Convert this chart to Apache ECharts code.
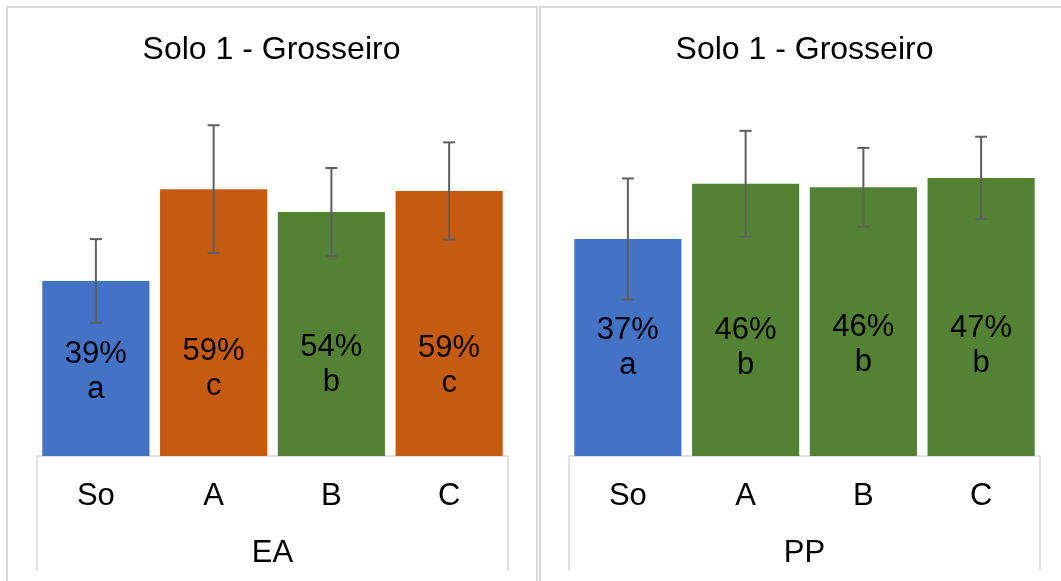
<!DOCTYPE html>
<html>
<head>
<meta charset="utf-8">
<script src="https://cdn.jsdelivr.net/npm/echarts@6/dist/echarts.min.js"></script>
<style>
html,body{margin:0;padding:0;background:#fff;}
#c{width:1061px;height:581px;}
</style>
</head>
<body>
<div id="c"></div>
<script>
// ---- data ----
const categories = ['So', 'A', 'B', 'C'];
const chartTitle = 'Solo 1 - Grosseiro';
const eaName = 'EA';
const eaValues = [38.9, 59.3, 54.2, 58.9];
const eaErrors = [9.3, 14.2, 9.8, 10.8];
const eaLetters = ['a', 'c', 'b', 'c'];
const ppName = 'PP';
const ppValues = [36.9, 46.3, 45.7, 47.3];
const ppErrors = [10.3, 9.0, 6.7, 7.0];
const ppLetters = ['a', 'b', 'b', 'b'];

// ---- styles / layout ----
const letterColors = { a: '#4472C4', b: '#548235', c: '#C55A11' };
const FONT = "'Liberation Sans', Arial, sans-serif";
const FS = 31;
const baseY = 456;
const boxBottom = 571;
const grids = [
  { left: 37, width: 471, max: 80, pxPer: 4.5, labelDist: [49, 52, 56, 55], panelX: 7, panelW: 530, titleX: 271.5 },
  { left: 569, width: 471, max: 60, pxPer: 5.88, labelDist: [73, 73, 76, 75], panelX: 540, panelW: 540, titleX: 804.5 }
];
grids.forEach(g => { g.height = g.max * g.pxPer; g.top = baseY - g.height; });

function errRender(params, api) {
  const x = api.value(0);
  const pLo = api.coord([x, api.value(1)]);
  const pHi = api.coord([x, api.value(2)]);
  const cap = 6;
  const style = { stroke: '#5f5f5f', lineWidth: 2 };
  return {
    type: 'group',
    children: [
      { type: 'line', shape: { x1: pHi[0], y1: pHi[1], x2: pLo[0], y2: pLo[1] }, style },
      { type: 'line', shape: { x1: pHi[0] - cap, y1: pHi[1], x2: pHi[0] + cap, y2: pHi[1] }, style },
      { type: 'line', shape: { x1: pLo[0] - cap, y1: pLo[1], x2: pLo[0] + cap, y2: pLo[1] }, style }
    ]
  };
}

const panels = [
  { name: eaName, values: eaValues, errors: eaErrors, letters: eaLetters },
  { name: ppName, values: ppValues, errors: ppErrors, letters: ppLetters }
];

const option = {
  animation: false,
  backgroundColor: '#fff',
  title: panels.map((p, i) => ({
    text: chartTitle,
    left: grids[i].titleX,
    top: 34,
    padding: 0,
    textAlign: 'center',
    textStyle: { fontFamily: FONT, fontSize: 32, fontWeight: 'normal', color: '#000' }
  })),
  grid: grids.map(g => ({ left: g.left, top: g.top, width: g.width, height: g.height })),
  xAxis: panels.map((p, i) => ({
    type: 'category',
    gridIndex: i,
    data: categories,
    axisLine: { lineStyle: { color: '#d9d9d9', width: 1.5 } },
    axisTick: { show: false },
    axisLabel: { fontFamily: FONT, fontSize: FS, color: '#000', margin: 25 },
    name: p.name,
    nameLocation: 'middle',
    nameGap: 82,
    nameTextStyle: { fontFamily: FONT, fontSize: FS, color: '#000' }
  })),
  yAxis: grids.map((g, i) => ({
    type: 'value', gridIndex: i, min: 0, max: g.max, show: false, splitLine: { show: false }
  })),
  series: [].concat(...panels.map((p, i) => [
    {
      type: 'bar',
      xAxisIndex: i, yAxisIndex: i,
      barCategoryGap: '9%',
      data: p.values.map((v, k) => ({
        value: v,
        itemStyle: { color: letterColors[p.letters[k]] },
        label: {
          show: true,
          position: 'insideBottom',
          distance: grids[i].labelDist[k],
          formatter: Math.round(v) + '%\n' + p.letters[k],
          fontFamily: FONT, fontSize: FS, lineHeight: 35, color: '#000'
        }
      }))
    },
    {
      type: 'custom',
      xAxisIndex: i, yAxisIndex: i,
      renderItem: errRender,
      z: 10,
      data: p.values.map((v, k) => [k, v - p.errors[k], v + p.errors[k]])
    }
  ])),
  graphic: [].concat(...grids.map(g => [
    { type: 'rect', shape: { x: g.panelX, y: 7, width: g.panelW, height: 600 },
      style: { fill: 'none', stroke: '#d9d9d9', lineWidth: 2 }, silent: true },
    { type: 'line', shape: { x1: g.left, y1: baseY, x2: g.left, y2: boxBottom },
      style: { stroke: '#d9d9d9', lineWidth: 1.5 }, silent: true },
    { type: 'line', shape: { x1: g.left + g.width, y1: baseY, x2: g.left + g.width, y2: boxBottom },
      style: { stroke: '#d9d9d9', lineWidth: 1.5 }, silent: true }
  ]))
};

const chart = echarts.init(document.getElementById('c'), null, { renderer: 'canvas' });
chart.setOption(option);
</script>
</body>
</html>
